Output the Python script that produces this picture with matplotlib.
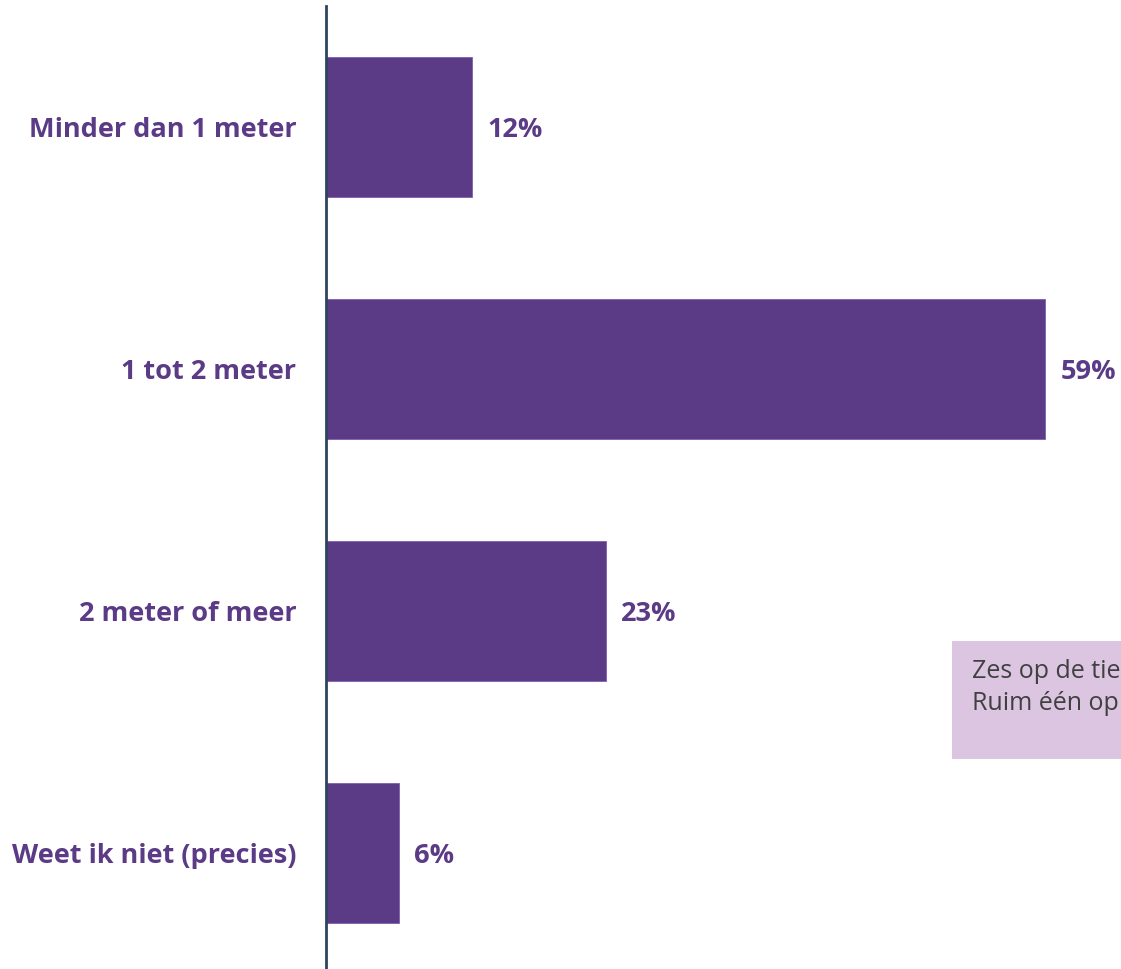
import matplotlib
matplotlib.use("Agg")
import matplotlib.pyplot as plt
from matplotlib.patches import Rectangle

categories = ["Minder dan 1 meter", "1 tot 2 meter", "2 meter of meer", "Weet ik niet (precies)"]
values = [12, 59, 23, 6]
value_labels = ["12%", "59%", "23%", "6%"]
note_lines = ["Zes op de tie", "Ruim één op"]

W, H = 1121, 969
fig = plt.figure(figsize=(W / 100, H / 100), dpi=100)
purple = "#5B3A86"

ax = fig.add_axes([326 / W, 0, (W - 326) / W, 1 - 6 / H])
y = list(range(len(categories)))
ax.barh(y, values, height=0.579, color=purple, edgecolor="#7E5FAE", linewidth=0.6)
ax.set_ylim(3 + (H - 853) / 242, -0.5)
ax.set_xlim(0, (W - 326) / 12.19)
for s in ["top", "right", "bottom"]:
    ax.spines[s].set_visible(False)
ax.spines["left"].set_color("#2B4561")
ax.spines["left"].set_linewidth(2)
ax.set_xticks([])
ax.set_yticks(y)
ax.set_yticklabels(categories, fontsize=19.5, fontweight="bold", color=purple, family="Open Sans",
                   va="center_baseline")
ax.tick_params(axis="y", length=0, pad=21.5)
for yi, v, lab in zip(y, values, value_labels):
    ax.text(v + 15 / 12.19, yi, lab, va="center_baseline", ha="left", fontsize=19.5,
            fontweight="bold", color=purple, family="Open Sans")

fig.patches.append(Rectangle((952 / W, 1 - 759 / H), (W - 952) / W, (759 - 641) / H,
                             transform=fig.transFigure, facecolor="#DBC5E0", edgecolor="none", zorder=5))
fig.text(972 / W, 1 - 668 / H, note_lines[0], fontsize=18, color="#404040", va="center_baseline",
         ha="left", family="Open Sans", zorder=6)
fig.text(972 / W, 1 - 701 / H, note_lines[1], fontsize=18, color="#404040", va="center_baseline",
         ha="left", family="Open Sans", zorder=6)

fig.savefig("out.png", dpi=100)
